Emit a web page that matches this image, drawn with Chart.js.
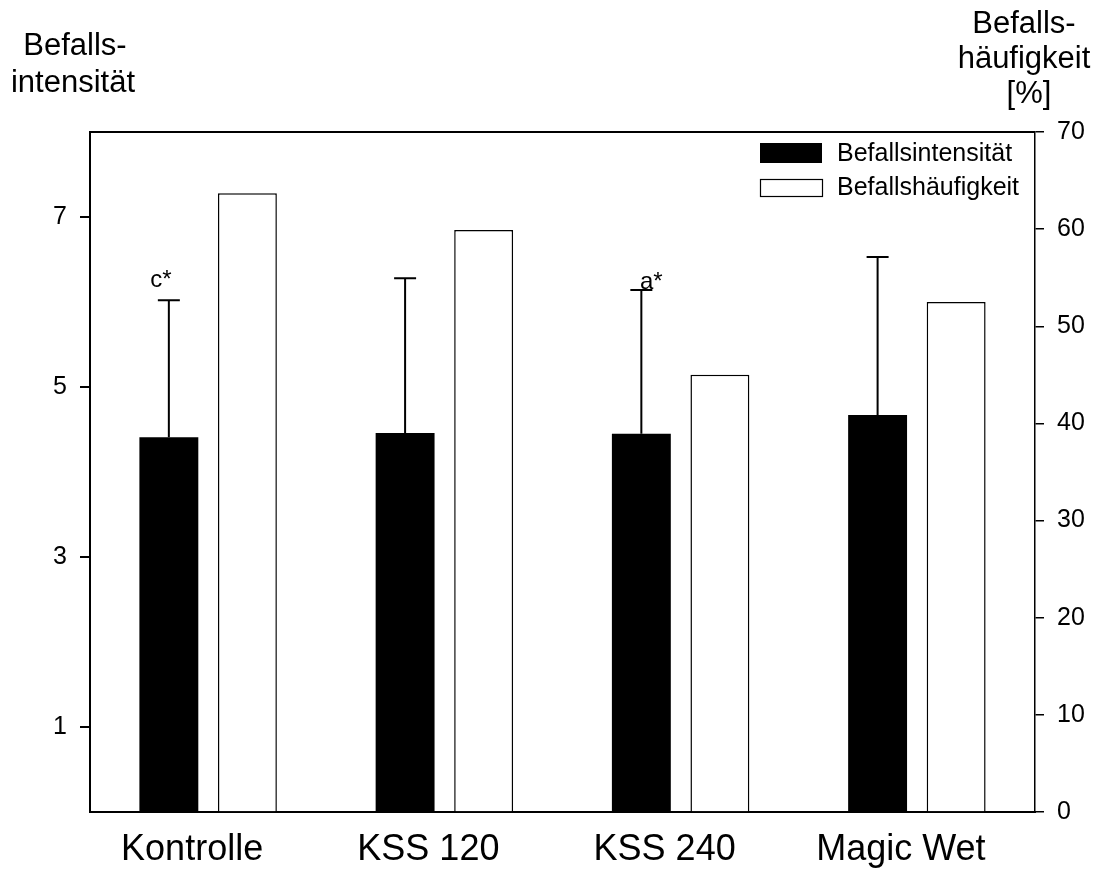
<!DOCTYPE html>
<html>
<head>
<meta charset="utf-8">
<script src="https://cdn.jsdelivr.net/npm/chart.js@4.4.0/dist/chart.umd.min.js"></script>
<style>
  html, body { margin: 0; padding: 0; background: #fff; }
</style>
</head>
<body>
<canvas id="befallChart" width="1094" height="872"></canvas>
<script>
// Daten
const categories = ['Kontrolle', 'KSS 120', 'KSS 240', 'Magic Wet'];
const intensitaet = [4.41, 4.46, 4.45, 4.67];
const intensitaetFehler = [1.61, 1.82, 1.69, 1.86];
const haeufigkeit = [63.7, 59.9, 45.0, 52.5];
const signifikanz = ['c*', '', 'a*', ''];
const leftTicks = [1, 3, 5, 7];

const FONT = "'Liberation Sans', Arial, Helvetica, sans-serif";

// Fehlerbalken (nur nach oben) + Buchstaben
const errorBarPlugin = {
    id: 'errorBars',
    afterDatasetsDraw(chart) {
        const ctx = chart.ctx;
        const meta = chart.getDatasetMeta(0);
        const yScale = chart.scales.y;
        ctx.save();
        ctx.strokeStyle = '#000';
        ctx.lineWidth = 2;
        meta.data.forEach((bar, i) => {
            const top = yScale.getPixelForValue(intensitaet[i] + intensitaetFehler[i]);
            ctx.beginPath();
            ctx.moveTo(bar.x, bar.y);
            ctx.lineTo(bar.x, top);
            ctx.moveTo(bar.x - 11, top);
            ctx.lineTo(bar.x + 11, top);
            ctx.stroke();
        });
        // Signifikanz-Buchstaben
        const shift = [[-8, -13], [0, -13], [10, -1], [0, -13]];
        ctx.fillStyle = '#000';
        ctx.font = '24px ' + FONT;
        ctx.textAlign = 'center';
        ctx.textBaseline = 'alphabetic';
        meta.data.forEach((bar, i) => {
            if (!signifikanz[i]) return;
            const top = yScale.getPixelForValue(intensitaet[i] + intensitaetFehler[i]);
            ctx.fillText(signifikanz[i], bar.x + shift[i][0], top + shift[i][1]);
        });
        ctx.restore();
    }
};

// Rahmen oben, Achsentitel und Legende
const framePlugin = {
    id: 'frame',
    afterDraw(chart) {
        const ctx = chart.ctx;
        const area = chart.chartArea;
        ctx.save();
        ctx.strokeStyle = '#000';
        ctx.lineWidth = 2;
        ctx.beginPath();
        ctx.moveTo(area.left - 1, area.top);
        ctx.lineTo(area.right, area.top);
        ctx.stroke();

        ctx.fillStyle = '#000';
        ctx.font = '31px ' + FONT;
        ctx.textAlign = 'center';
        ctx.textBaseline = 'alphabetic';
        ctx.fillText('Befalls-', 75, 55);
        ctx.fillText('intensität', 73, 92);
        ctx.fillText('Befalls-', 1024, 33);
        ctx.fillText('häufigkeit', 1024, 68);
        ctx.fillText('[%]', 1029, 103);

        // Legende
        const lx = area.right - 275;
        ctx.fillRect(lx, area.top + 11, 62, 20);
        ctx.fillStyle = '#fff';
        ctx.fillRect(lx, area.top + 47, 62, 17);
        ctx.lineWidth = 1.2;
        ctx.strokeRect(lx + 0.5, area.top + 47.5, 62, 17);
        ctx.fillStyle = '#000';
        ctx.font = '25px ' + FONT;
        ctx.textAlign = 'left';
        ctx.textBaseline = 'middle';
        ctx.fillText(chart.data.datasets[0].label, lx + 77, area.top + 22);
        ctx.fillText(chart.data.datasets[1].label, lx + 77, area.top + 56);
        ctx.restore();
    }
};

const ctx = document.getElementById('befallChart').getContext('2d');
const befallChart = new Chart(ctx, {
    type: 'bar',
    data: {
        labels: categories,
        datasets: [{
            label: 'Befallsintensität',
            data: intensitaet,
            yAxisID: 'y',
            backgroundColor: '#000',
            borderWidth: 0,
            categoryPercentage: 0.665,
            barPercentage: 0.75
        }, {
            label: 'Befallshäufigkeit',
            data: haeufigkeit,
            yAxisID: 'y1',
            backgroundColor: '#fff',
            borderColor: '#000',
            borderWidth: 1.5,
            categoryPercentage: 0.665,
            barPercentage: 0.75
        }]
    },
    options: {
        responsive: false,
        animation: false,
        layout: {
            padding: { top: 132, left: 0, right: 0, bottom: 0 }
        },
        plugins: {
            legend: { display: false },
            tooltip: { enabled: false }
        },
        scales: {
            x: {
                grid: { display: false },
                border: { display: true, color: '#000', width: 2 },
                ticks: {
                    color: '#000',
                    font: { family: FONT, size: 36 },
                    padding: 8,
                    labelOffset: -16,
                    maxRotation: 0
                },
                afterFit(scale) { scale.height = 60; }
            },
            y: {
                position: 'left',
                min: 0,
                max: 8,
                afterBuildTicks(scale) {
                    scale.ticks = leftTicks.map(v => ({ value: v }));
                },
                grid: {
                    drawOnChartArea: false,
                    drawTicks: true,
                    tickLength: 10,
                    color: '#000',
                    lineWidth: 2
                },
                border: { display: true, color: '#000', width: 2 },
                ticks: {
                    color: '#000',
                    font: { family: FONT, size: 25 },
                    padding: 13
                },
                afterFit(scale) { scale.width = 90; }
            },
            y1: {
                position: 'right',
                min: 0,
                max: 70,
                grid: {
                    drawOnChartArea: false,
                    drawTicks: true,
                    tickLength: 9,
                    color: '#000',
                    lineWidth: 1.5
                },
                border: { display: true, color: '#000', width: 1.5 },
                ticks: {
                    stepSize: 10,
                    color: '#000',
                    font: { family: FONT, size: 25 },
                    padding: 13
                },
                afterFit(scale) { scale.width = 59; }
            }
        }
    },
    plugins: [errorBarPlugin, framePlugin]
});
</script>
</body>
</html>
